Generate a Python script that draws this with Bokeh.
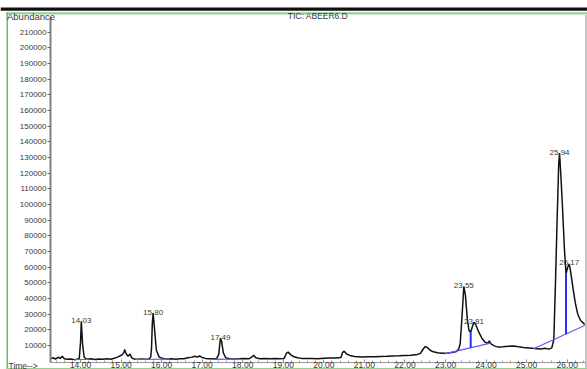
import numpy as np
from bokeh.plotting import figure
from bokeh.models import (Range1d, FixedTicker, PrintfTickFormatter, NumeralTickFormatter,
                          ColumnDataSource, Label, BoxAnnotation)
from bokeh.core.properties import value
from bokeh.embed import file_html
from bokeh.resources import INLINE

# ---------------- data ----------------
title_text = "TIC: ABEER6.D"
y_label_text = "Abundance"
x_label_text = "Time-->"

rt = [13.26, 13.32, 13.38, 13.45, 13.50, 13.55, 13.60, 13.68, 13.75, 13.85, 13.92, 13.97,
      14.00, 14.02, 14.05, 14.09, 14.15, 14.25, 14.35, 14.45, 14.55, 14.65, 14.75, 14.85,
      14.92, 14.98, 15.03, 15.07, 15.09, 15.12, 15.17, 15.22, 15.27, 15.33, 15.40, 15.50,
      15.60, 15.68, 15.73, 15.75, 15.77, 15.79, 15.82, 15.87, 15.94, 16.05, 16.15, 16.25,
      16.35, 16.45, 16.55, 16.65, 16.75, 16.82, 16.88, 16.93, 17.00, 17.08, 17.18, 17.28,
      17.36, 17.41, 17.43, 17.45, 17.48, 17.52, 17.58, 17.68, 17.80, 17.92, 18.05, 18.15,
      18.22, 18.27, 18.32, 18.42, 18.55, 18.68, 18.80, 18.92, 19.02, 19.08, 19.12, 19.18,
      19.25, 19.35, 19.45, 19.55, 19.70, 19.85, 20.00, 20.15, 20.30, 20.42, 20.46, 20.50,
      20.56, 20.64, 20.76, 20.92, 21.08, 21.25, 21.40, 21.55, 21.70, 21.85, 22.00, 22.15,
      22.30, 22.38, 22.45, 22.50, 22.56, 22.62, 22.70, 22.80, 22.92, 23.05, 23.15, 23.25,
      23.32, 23.36, 23.40, 23.45, 23.49, 23.54, 23.58, 23.62, 23.66, 23.70, 23.75, 23.82,
      23.90, 23.98, 24.04, 24.08, 24.12, 24.20, 24.30, 24.42, 24.55, 24.68, 24.80, 24.92,
      25.05, 25.15, 25.25, 25.35, 25.45, 25.55, 25.62, 25.67, 25.71, 25.75, 25.79, 25.81,
      25.84, 25.88, 25.93, 25.97, 26.01, 26.05, 26.09, 26.14, 26.20, 26.26, 26.33, 26.43]

abundance = [1500, 2200, 1400, 2500, 1800, 3200, 1600, 1200, 1400, 1000, 1200, 2000,
             12000, 25500, 11000, 2500, 1200, 1500, 1100, 1400, 1200, 1500, 1300, 2000,
             2800, 3500, 4200, 5500, 7500, 5000, 3200, 4500, 2000, 1300, 1200, 1400,
             1200, 1400, 2500, 8000, 24000, 30700, 22000, 7000, 2600, 1600, 1400, 1500,
             1300, 1500, 1600, 2200, 2600, 3200, 2600, 3300, 2400, 1800, 1600, 1500,
             1800, 4500, 10000, 14700, 12500, 5500, 2200, 1600, 1400, 1500, 1700, 1500,
             2600, 3800, 2200, 1600, 1800, 1500, 1700, 1500, 1800, 5200, 5800, 4200,
             3000, 2200, 1800, 1700, 1800, 1600, 1900, 2000, 2100, 2300, 5500, 6400,
             4600, 3700, 3000, 2700, 2800, 2900, 3000, 3100, 3300, 3400, 3600, 3800,
             4200, 5000, 7800, 9400, 8500, 7000, 6000, 5400, 5000, 5100, 5500, 6000,
             7500, 11000, 26000, 47700, 42000, 26000, 19500, 18500, 22000, 24900, 23000, 18500,
             14500, 12000, 11500, 13000, 11000, 9800, 9000, 9200, 9600, 9700, 9200, 8800,
             8500, 8200, 8000, 7800, 8200, 7700, 8500, 14000, 50000, 90000, 126000, 132900,
             120000, 100000, 72000, 55800, 60000, 62200, 56000, 47000, 37000, 30000, 26000, 23500]

peak_labels = ["14.03", "15.80", "17.49", "23.55", "23.81", "25.94", "26.17"]

# integration baselines (start rt, start abundance, end rt, end abundance)
base_x0 = [13.85, 15.35, 17.20, 22.97, 25.17]
base_y0 = [1100, 1100, 1200, 4700, 7900]
base_x1 = [14.20, 16.20, 17.85, 24.11, 26.43]
base_y1 = [1100, 1300, 1300, 11500, 22800]

# split (drop) lines between fused peaks
drop_x = [23.62, 25.97]

y_ticks = list(range(10000, 210001, 10000))
x_ticks = list(range(14, 27))
x_minor = [round(13.4 + 0.2 * k, 1) for k in range(66)]
x_bounds = (13.26, 26.45)
y_bounds = (-600, 219500)

# ---------------- layout (pixels on the canvas) ----------------
W, H = 587, 369
AXIS_PX = 50.0          # canvas x of the y axis
PX_PER_MIN = 40.56
ZERO_PX = 360.7         # canvas y of abundance 0
PX_PER_UNIT = 15.665 / 10000

x_start = x_bounds[0] - AXIS_PX / PX_PER_MIN
x_end = x_start + W / PX_PER_MIN
y_end = ZERO_PX / PX_PER_UNIT
y_start = -(H - ZERO_PX) / PX_PER_UNIT

p = figure(width=W, height=H, output_backend="svg", toolbar_location=None,
           x_range=Range1d(x_start, x_end), y_range=Range1d(y_start, y_end),
           min_border_left=0, min_border_top=0, min_border_right=0, min_border_bottom=0)
p.outline_line_color = None
p.xgrid.visible = False
p.ygrid.visible = False
p.background_fill_color = "white"
p.border_fill_color = "white"

FONT = value("Liberation Sans")
TXT = "#3a3a3a"

# ---------------- window decorations ----------------
def sy(canvas_y):
    return H - canvas_y

def box(l, r, t, b, color):
    p.add_layout(BoxAnnotation(left=l, right=r, top=sy(t), bottom=sy(b),
                               left_units="screen", right_units="screen", top_units="screen",
                               bottom_units="screen", fill_color=color, fill_alpha=1,
                               line_color=None, level="underlay"))

box(0, W, 7, 10.3, "#111111")
box(6, W, 12, 13.3, "#5fb55f")
box(6, W, 13.3, 14.6, "#cfe8cf")
box(6, 7.4, 12, H, "#5cb85c")
box(6, W, H - 1.6, H, "#93d293")
box(W - 2.5, W, 14.6, H - 1.6, "#c4c4c4")

# ---------------- chromatogram ----------------
rt_arr = np.array(rt)
ab_arr = np.array(abundance)
p.line(rt_arr, ab_arr, line_color="#111111", line_width=1.5)

p.segment(x0=base_x0, y0=base_y0, x1=base_x1, y1=base_y1,
          line_color="#5a5aff", line_width=1.2)

drop_top = [float(np.interp(x, rt_arr, ab_arr)) for x in drop_x]
drop_bot = []
for x in drop_x:
    for x0, y0, x1, y1 in zip(base_x0, base_y0, base_x1, base_y1):
        if x0 <= x <= x1:
            drop_bot.append(y0 + (y1 - y0) * (x - x0) / (x1 - x0))
            break
p.segment(x0=drop_x, y0=drop_top, x1=drop_x, y1=drop_bot,
          line_color="#2a2aff", line_width=2)

lab_x, lab_y = [], []
for lab in peak_labels:
    r = float(lab)
    m = (rt_arr >= r - 0.2) & (rt_arr <= r + 0.05)
    i = np.where(m)[0][np.argmax(ab_arr[m])]
    lab_x.append(rt_arr[i])
    lab_y.append(ab_arr[i])
src = ColumnDataSource(dict(x=lab_x, y=lab_y, t=peak_labels))
p.text(x="x", y="y", text="t", source=src, text_font=FONT, text_font_size="8px",
       text_color=TXT, text_align="center", text_baseline="alphabetic", y_offset=-1)

# ---------------- axes (kept in their side panels, drawn at fixed positions) ----------------
p.yaxis.fixed_location = x_bounds[0]
p.yaxis.bounds = y_bounds
p.yaxis.ticker = FixedTicker(ticks=y_ticks)
p.yaxis.formatter = NumeralTickFormatter(format="0")
p.yaxis.major_label_text_font = "Liberation Sans"
p.yaxis.major_label_text_font_size = "8px"
p.yaxis.major_label_text_color = TXT
p.yaxis.major_tick_out = 3
p.yaxis.major_tick_in = 0
p.yaxis.minor_tick_line_color = None
p.yaxis.major_label_standoff = 1
p.yaxis.axis_line_color = "#808080"
p.yaxis.axis_line_width = 2
p.yaxis.major_tick_line_color = "#666666"

p.xaxis.fixed_location = y_bounds[0]
p.xaxis.bounds = x_bounds
p.xaxis.ticker = FixedTicker(ticks=x_ticks, minor_ticks=x_minor)
p.xaxis.formatter = PrintfTickFormatter(format="%.2f")
p.xaxis.major_label_text_font = "Liberation Sans"
p.xaxis.major_label_text_font_size = "8.5px"
p.xaxis.major_label_text_color = TXT
p.xaxis.major_tick_in = 3
p.xaxis.major_tick_out = 0
p.xaxis.minor_tick_in = 2
p.xaxis.minor_tick_out = 0
p.xaxis.major_label_standoff = 0
p.xaxis.axis_line_color = "#999999"
p.xaxis.major_tick_line_color = "#777777"
p.xaxis.minor_tick_line_color = "#999999"

# ---------------- texts ----------------
p.add_layout(Label(x=6.5, y=sy(15.5), x_units="screen", y_units="screen", text=y_label_text,
                   text_font="Liberation Sans", text_font_size="9.5px", text_color=TXT,
                   text_baseline="middle", text_align="left"))
p.add_layout(Label(x=317.5, y=sy(15.5), x_units="screen", y_units="screen", text=title_text,
                   text_font="Liberation Sans", text_font_size="8.5px", text_color=TXT,
                   text_baseline="middle", text_align="center"))
p.add_layout(Label(x=8, y=sy(365), x_units="screen", y_units="screen", text=x_label_text,
                   text_font="Liberation Sans", text_font_size="8.5px", text_color=TXT,
                   text_baseline="middle", text_align="left"))

open("out.html", "w").write(file_html(p, INLINE))
